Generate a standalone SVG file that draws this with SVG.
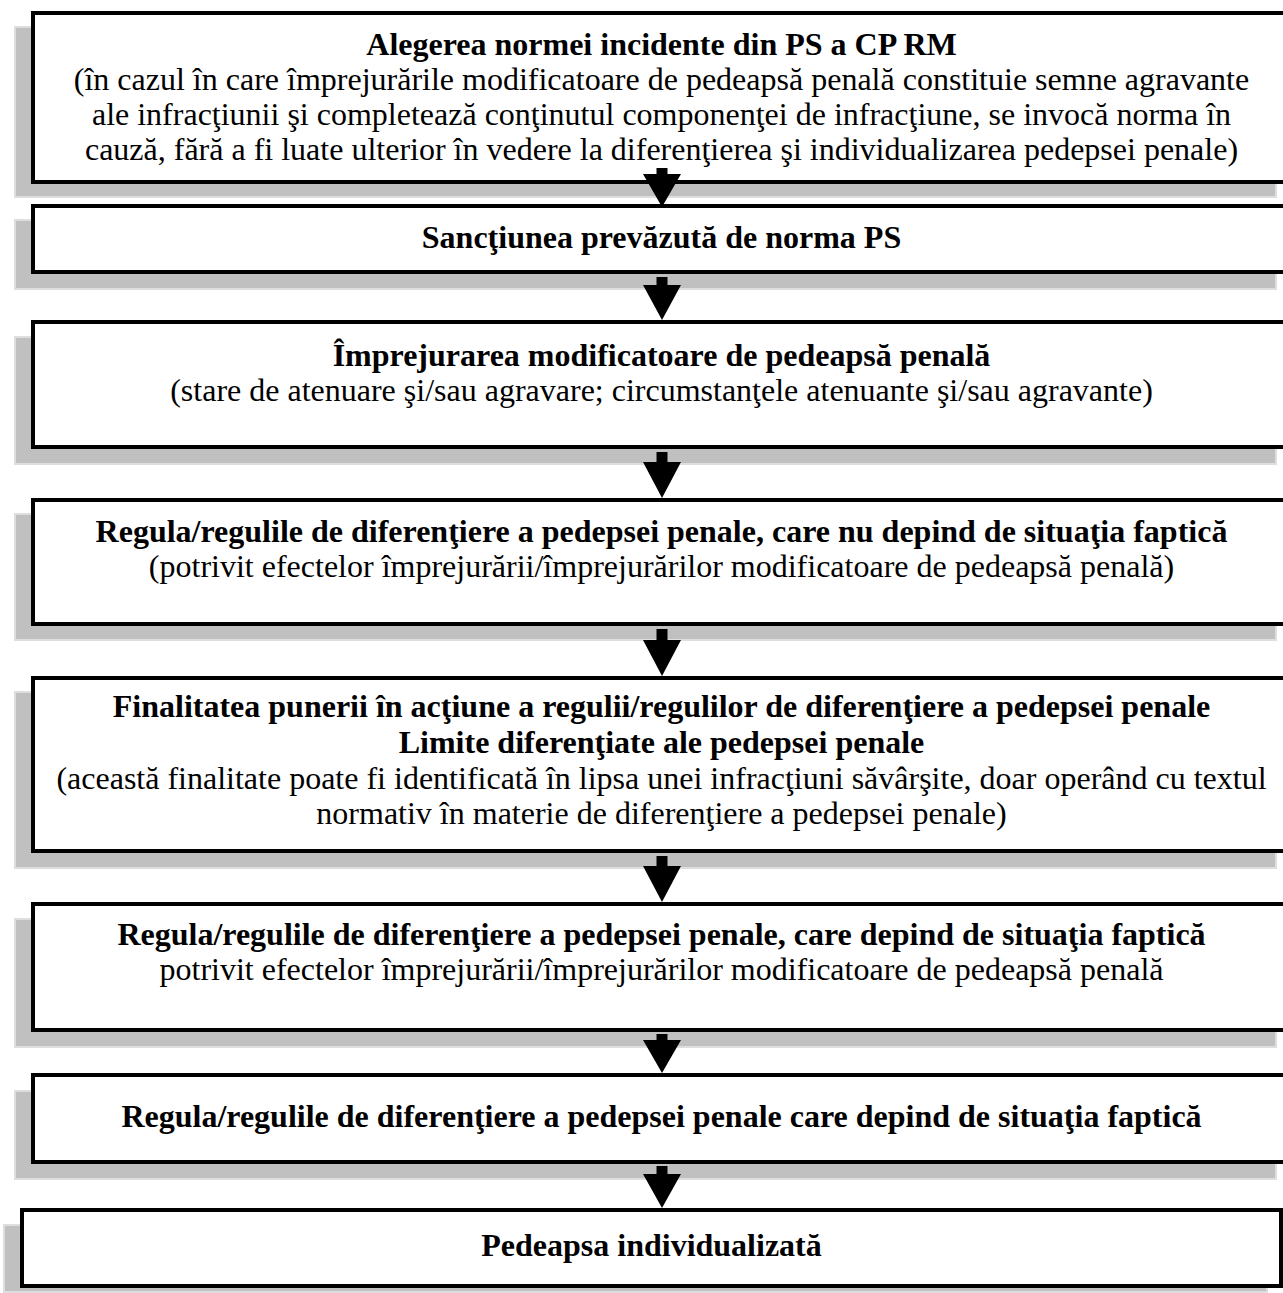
<svg xmlns="http://www.w3.org/2000/svg" width="1283" height="1293" viewBox="0 0 1283 1293">
  <style>
    .shadow { fill: #c0c0c0; stroke: #dedede; stroke-width: 2; }
    .box { fill: #ffffff; stroke: #000000; stroke-width: 4; }
    text { font-family: "Liberation Serif", "Times New Roman", serif; font-size: 32px; fill: #000000; text-anchor: middle; }
    .b { font-weight: bold; }
    .arrow { fill: #000000; stroke: none; }
  </style>

  <!-- Step 1 -->
  <g id="node-alegerea">
    <rect class="shadow" x="15" y="27" width="1261" height="170"/>
    <rect class="box" x="33" y="13" width="1259" height="169"/>
    <text class="b" x="661.5" y="55">Alegerea normei incidente din PS a CP RM</text>
    <text x="661.5" y="90">(în cazul în care împrejurările modificatoare de pedeapsă penală constituie semne agravante</text>
    <text x="661.5" y="125">ale infracţiunii şi completează conţinutul componenţei de infracţiune, se invocă norma în</text>
    <text x="661.5" y="160">cauză, fără a fi luate ulterior în vedere la diferenţierea şi individualizarea pedepsei penale)</text>
  </g>

  <!-- Step 2 -->
  <g id="node-sanctiunea">
    <rect class="shadow" x="15" y="220" width="1261" height="69"/>
    <rect class="box" x="33" y="206" width="1259" height="66"/>
    <text class="b" x="661.5" y="248">Sancţiunea prevăzută de norma PS</text>
  </g>

  <!-- Step 3 -->
  <g id="node-imprejurarea">
    <rect class="shadow" x="15" y="337" width="1261" height="127"/>
    <rect class="box" x="33" y="322" width="1259" height="125"/>
    <text class="b" x="661.5" y="366">Împrejurarea modificatoare de pedeapsă penală</text>
    <text x="661.5" y="401">(stare de atenuare şi/sau agravare; circumstanţele atenuante şi/sau agravante)</text>
  </g>

  <!-- Step 4 -->
  <g id="node-reguli-independente">
    <rect class="shadow" x="15" y="514" width="1261" height="126"/>
    <rect class="box" x="33" y="500" width="1259" height="124"/>
    <text class="b" x="661.5" y="542">Regula/regulile de diferenţiere a pedepsei penale, care nu depind de situaţia faptică</text>
    <text x="661.5" y="577">(potrivit efectelor împrejurării/împrejurărilor modificatoare de pedeapsă penală)</text>
  </g>

  <!-- Step 5 -->
  <g id="node-finalitatea">
    <rect class="shadow" x="15" y="692" width="1261" height="176"/>
    <rect class="box" x="33" y="678" width="1259" height="173"/>
    <text class="b" x="661.5" y="717">Finalitatea punerii în acţiune a regulii/regulilor de diferenţiere a pedepsei penale</text>
    <text class="b" x="661.5" y="753">Limite diferenţiate ale pedepsei penale</text>
    <text x="661.5" y="789">(această finalitate poate fi identificată în lipsa unei infracţiuni săvârşite, doar operând cu textul</text>
    <text x="661.5" y="824">normativ în materie de diferenţiere a pedepsei penale)</text>
  </g>

  <!-- Step 6 -->
  <g id="node-reguli-dependente">
    <rect class="shadow" x="15" y="919" width="1261" height="128"/>
    <rect class="box" x="33" y="904" width="1259" height="126"/>
    <text class="b" x="661.5" y="945">Regula/regulile de diferenţiere a pedepsei penale, care depind de situaţia faptică</text>
    <text x="661.5" y="980">potrivit efectelor împrejurării/împrejurărilor modificatoare de pedeapsă penală</text>
  </g>

  <!-- Step 7 -->
  <g id="node-reguli-faptice">
    <rect class="shadow" x="15" y="1091" width="1261" height="88"/>
    <rect class="box" x="33" y="1075" width="1259" height="87"/>
    <text class="b" x="661.5" y="1127">Regula/regulile de diferenţiere a pedepsei penale care depind de situaţia faptică</text>
  </g>

  <!-- Step 8 -->
  <g id="node-pedeapsa">
    <rect class="shadow" x="4" y="1225" width="1263" height="67"/>
    <rect class="box" x="22" y="1210" width="1259" height="76"/>
    <text class="b" x="651.5" y="1256">Pedeapsa individualizată</text>
  </g>

  <!-- Downward arrows between consecutive steps -->
  <g id="connectors">
    <path class="arrow" d="M656.5 168 H667.5 V174 H681 L662 207 L643 174 H656.5 Z"/>
    <path class="arrow" d="M656.5 277 H667.5 V285 H681 L662 320 L643 285 H656.5 Z"/>
    <path class="arrow" d="M656.5 452 H667.5 V462 H681 L662 498 L643 462 H656.5 Z"/>
    <path class="arrow" d="M656.5 629 H667.5 V640 H681 L662 676 L643 640 H656.5 Z"/>
    <path class="arrow" d="M656.5 856 H667.5 V866 H681 L662 902 L643 866 H656.5 Z"/>
    <path class="arrow" d="M656.5 1034 H667.5 V1040 H681 L662 1073 L643 1040 H656.5 Z"/>
    <path class="arrow" d="M656.5 1166 H667.5 V1174 H681 L662 1208 L643 1174 H656.5 Z"/>
  </g>
</svg>
